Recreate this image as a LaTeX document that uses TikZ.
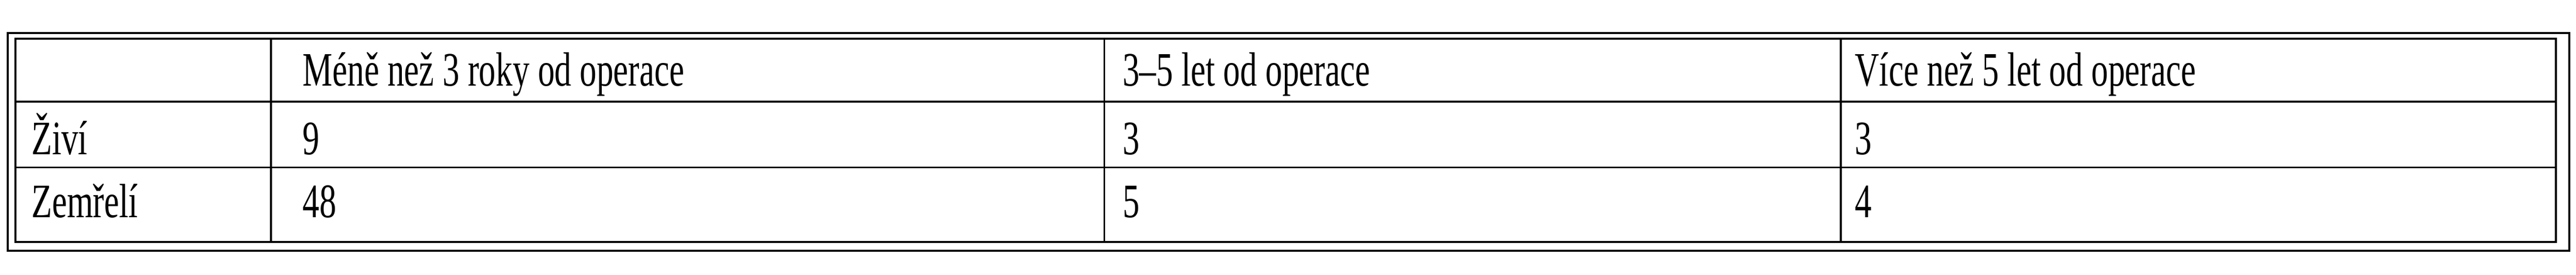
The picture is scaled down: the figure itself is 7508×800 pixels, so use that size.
\documentclass[tikz,border=0pt]{standalone}
\usepackage{fontspec}
\setmainfont{Liberation Serif}
\usetikzlibrary{positioning}

\begin{document}
\begin{tikzpicture}[x=0.1pt, y=-0.1pt]

\tikzset{cell/.style={anchor=base west, inner sep=0pt, font=\fontsize{14pt}{16pt}\selectfont}}
\newcommand\Txt[1]{\scalebox{0.7}[1]{#1}}

\useasboundingbox (0,0) rectangle (7508,800); %% margins

%% frames
\draw[line width=0.6pt](22,96) rectangle (7488,730);
\draw[line width=0.6pt](45,113) rectangle (7450,704);

%% rules
\draw[line width=0.5pt](45,296)--(7450,296);
\draw[line width=0.5pt](45,487)--(7450,487);
\foreach \c in {790, 3219, 5365}
  \draw[line width=0.5pt](\c,113)--(\c,704);

%% header
\node[cell] (h1) at (880,250) {\Txt{Méně než 3 roky od operace}};
\node[cell] (h2) at (3270,250) {\Txt{3–5 let od operace}};
\node[cell] (h3) at (5405,250) {\Txt{Více než 5 let od operace}};

%% rows
\node[cell] (r1) at (90,449) {\Txt{Živí}};
\node[cell] (a1) at (880,449) {\Txt{9}};
\node[cell] (b1) at (3270,449) {\Txt{3}};
\node[cell] (c1) at (5405,449) {\Txt{3}};

\node[cell] (r2) at (90,633) {\Txt{Zemřelí}};
\node[cell] (a2) at (880,633) {\Txt{48}};
\node[cell] (b2) at (3270,633) {\Txt{5}};
\node[cell] (c2) at (5405,633) {\Txt{4}};

\end{tikzpicture}
\end{document}
